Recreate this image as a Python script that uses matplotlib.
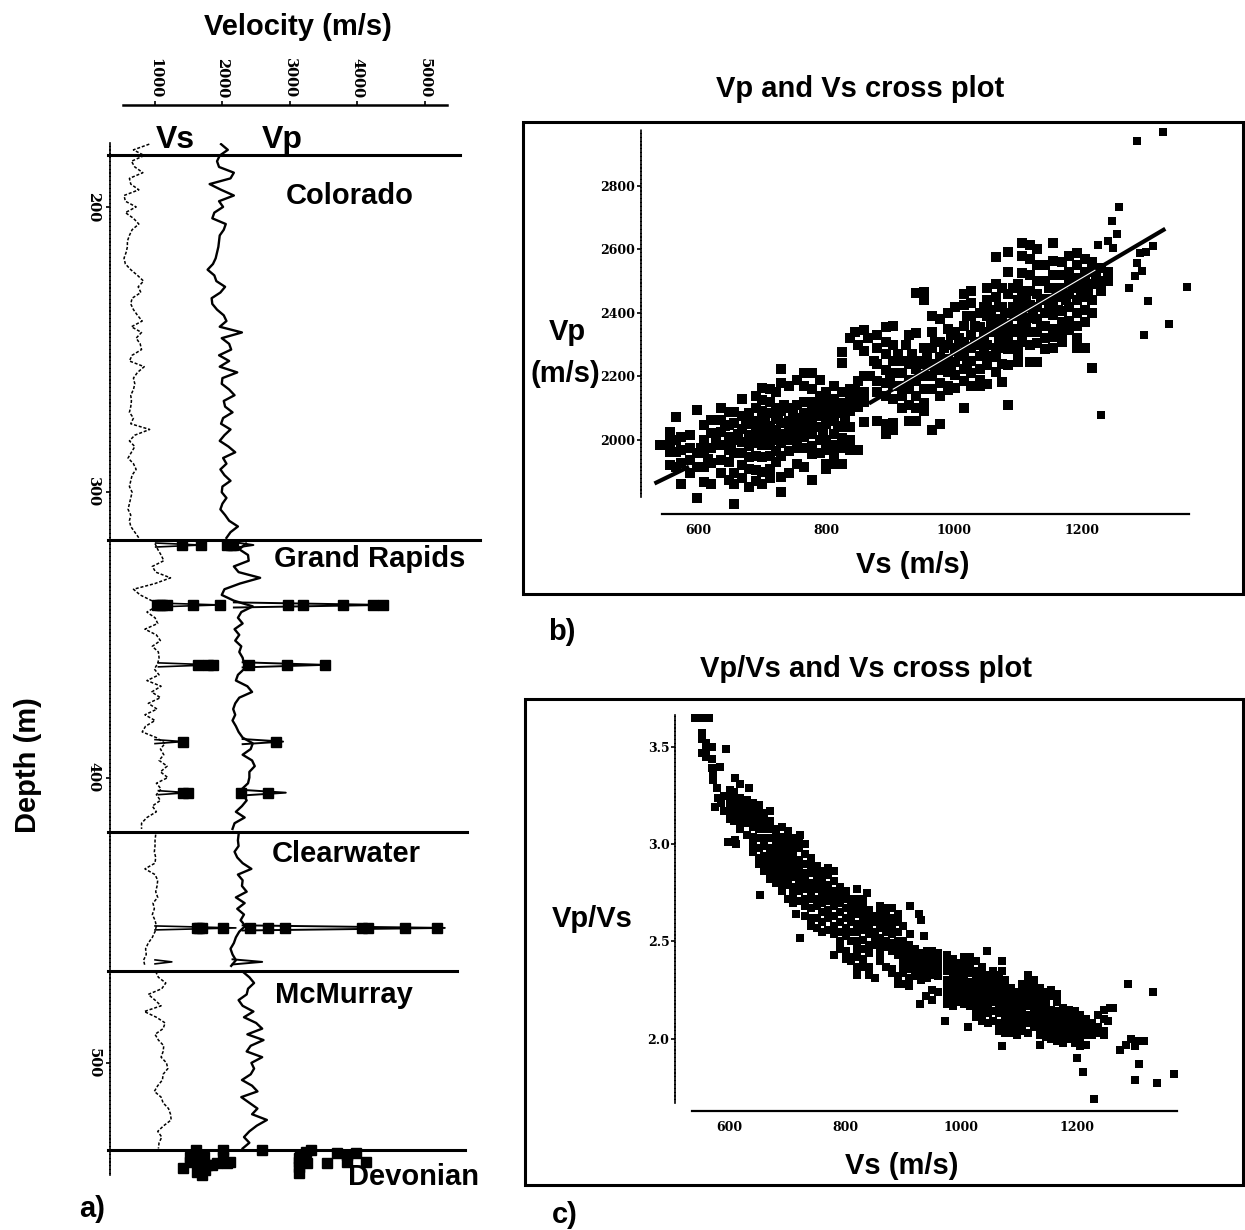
import numpy as np
import matplotlib
matplotlib.use("Agg")
import matplotlib.pyplot as plt
from matplotlib.patches import Rectangle

W, H = 1245, 1230
NARROW = ['Liberation Sans', 'DejaVu Sans']
TICKFONT = 'DejaVu Serif'

# log panel, velocities in m/s sampled down each formation
colorado_depth = (178, 316)
colorado_vp = [1980, 2080, 1960, 1920, 1950, 2170, 2120, 1810, 1980, 2170, 1950, 2010, 1880, 1850, 2050, 2020,
               1960, 1950, 1940, 1920, 1900, 1860, 1780, 1880, 1910, 2040, 1970, 1840, 1850, 1920, 2020, 2060,
               1960, 2290, 1990, 2100, 2130, 1950, 2100, 1960, 2220, 2000, 1990, 2100, 2180, 2020,
               2040, 2150, 2010, 1980, 2120, 2030, 1960, 2090, 2190, 2010, 2060, 1970, 2030, 2120, 2000, 1990,
               2060, 2000, 1970, 2040, 2100, 2230, 2120, 2060]
colorado_vs = [915, 680, 840, 650, 700, 820, 620, 640, 760, 540, 560, 720, 560, 680, 760, 660,
               620, 590, 590, 570, 540, 560, 640, 740, 830, 750, 790, 660, 640, 680, 740, 810,
               650, 800, 720, 780, 800, 660, 620, 840, 740, 680, 700, 680, 640, 650,
               640, 620, 680, 640, 920, 700, 620, 700, 650, 600, 680, 720, 660, 640, 620, 660,
               640, 620, 600, 640, 620, 640, 700, 760]

rapids_depth = (318, 418)
rapids_vp = [2350, 2250, 2380, 2390, 2170, 2240, 2560, 2260, 2030, 1990, 2170, 2450, 2280, 2230, 2300, 2180,
             2250, 2190, 2280, 2250, 2300, 2320, 2320, 2230, 2200, 2370, 2440, 2250, 2190, 2160, 2190, 2150,
             2200, 2240, 2300, 2450, 2420, 2300, 2440, 2480, 2400, 2400, 2380, 2290, 2310, 2360, 2290, 2200,
             2330, 2180, 2150]
rapids_vs = [1000, 1040, 1090, 1130, 960, 1010, 1230, 1000, 680, 780, 950, 1020, 880, 1000, 1040, 850,
             1020, 1080, 960, 1050, 1060, 1040, 990, 1060, 880, 1090, 950, 1080, 900, 1030, 850, 1000,
             860, 810, 1020, 1150, 1080, 1130, 1060, 1180, 1080, 1190, 1020, 1090, 1020, 1080, 960, 1020,
             880, 800, 800]

clearwater_depth = (420, 466)
clearwater_vp = [2240, 2230, 2240, 2180, 2220, 2300, 2430, 2230, 2300, 2290, 2360, 2200, 2330, 2220, 2320, 2270,
                 2340, 2250, 2200, 2170, 2120, 2150, 2200, 2130]
clearwater_vs = [1010, 1000, 1000, 990, 1010, 1000, 850, 1000, 1040, 1030, 1010, 1040, 970, 990, 960, 1000,
                 1020, 1000, 960, 900, 860, 870, 830, 850]

mcmurray_depth = (468, 530)
mcmurray_vp = [2300, 2400, 2470, 2380, 2360, 2240, 2300, 2460, 2320, 2500, 2590, 2370, 2610, 2420, 2360, 2590,
               2430, 2470, 2420, 2290, 2440, 2520, 2280, 2400, 2520, 2440, 2660, 2510, 2400, 2320, 2400, 2300]
mcmurray_vs = [1010, 1050, 1160, 1100, 900, 1000, 1090, 840, 1020, 1150, 1120, 1000, 1050, 1130, 1120, 1090,
               1170, 1190, 1120, 1110, 1040, 990, 1090, 1120, 1200, 1230, 1240, 1130, 1040, 1100, 1060, 1050]

log_sections = [(colorado_depth, colorado_vp, colorado_vs), (rapids_depth, rapids_vp, rapids_vs),
                (clearwater_depth, clearwater_vp, clearwater_vs), (mcmurray_depth, mcmurray_vp, mcmurray_vs)]

# spikes: depth, base and tip of each log, flagged samples
spike_depth = [318.5, 339.5, 360.5, 387.4, 405.3, 452.7, 464.6]
spike_vs_base = [1010, 1000, 1050, 1000, 1050, 1000, 1000]
spike_vs_tip = [1682, 1964, 1860, 1420, 1490, 2200, 1250]
spike_vs_flags = [[1396, 1682], [1025, 1070, 1100, 1173, 1567, 1964], [1640, 1790, 1860], [1420],
                  [1420, 1490], [1620, 1650, 1700, 2010], []]
spike_vp_base = [2200, 2170, 2300, 2300, 2350, 2300, 2150]
spike_vp_tip = [2460, 4400, 3520, 2900, 2940, 5300, 2590]
spike_vp_flags = [[2070, 2120, 2163], [2980, 3200, 3795, 4240, 4390], [2400, 2960, 3520], [2790],
                  [2270, 2680], [2410, 2670, 2930, 4070, 4160, 4710, 5180], []]

devonian_vs = [1610, 2015, 1520, 1620, 1720, 2015, 2110, 1520, 1670, 1770, 1915, 2065, 1420, 1670, 1690, 1740, 1620, 1840, 2590]
devonian_vs_d = [530.5, 530.5, 532.9, 532.9, 532.9, 532.9, 534.6, 534.6, 534.6, 535.8, 535.2, 535.2, 536.9, 536.4, 539.3, 537.5, 538.1, 535.8, 530.5]
devonian_vp = [3307, 3158, 3134, 3208, 3134, 3134, 3257, 3554, 3851, 4124, 3703, 3851, 3975, 3134, 3233]
devonian_vp_d = [530.5, 532.2, 534.6, 532.9, 538.7, 536.4, 535.2, 535.2, 534.6, 534.6, 531.5, 532.2, 531.5, 533.4, 531.1]

tops = ['Colorado', 'Grand Rapids', 'Clearwater', 'McMurray', 'Devonian']
top_depth = [181.8, 316.7, 419, 467.8, 530.5]
top_end = [5525, 5822, 5630, 5480, 5600]

# Vp against Vs
b_vs = [541, 556, 566, 574, 587, 598, 610, 620, 636, 648, 657, 669, 680, 690, 700, 712, 722, 730, 742, 754,
        765, 778, 790, 800, 812, 825, 838, 850, 860, 880, 893, 905, 918, 930, 940, 953, 965, 978, 990, 1002,
        1015, 1027, 1040, 1052, 1065, 1075, 1085, 1100, 1106, 1118, 1130, 1142, 1155, 1168, 1180, 1192, 1204, 1216, 1230, 1240]
b_vp = [[1985], [2026, 1995, 1963, 1921], [2073, 2000, 1963, 1916], [2010, 1968, 1926, 1860], [2016, 1974, 1937, 1895],
        [2094, 1958, 1916, 1816], [2047, 2000, 1958, 1916, 1869], [2063, 2021, 1974, 1926, 1863],
        [2100, 2063, 2026, 1984, 1937, 1895], [2089, 2047, 2010, 1968, 1932, 1874],
        [2089, 2052, 2000, 1958, 1895, 1863, 1800], [2130, 2075, 2035, 1995, 1960, 1920, 1880],
        [2085, 2050, 2015, 1980, 1945, 1910, 1853], [2140, 2100, 2060, 2025, 1990, 1950, 1905, 1870],
        [2165, 2125, 2090, 2050, 2020, 1985, 1945, 1900, 1860], [2160, 2120, 2085, 2045, 2015, 1985, 1950, 1910, 1880],
        [2152, 2100, 2065, 2030, 2000, 1965, 1930], [2225, 2180, 2090, 2055, 2020, 1990, 1950, 1885, 1835],
        [2170, 2100, 2060, 2030, 2000, 1965, 1895], [2190, 2110, 2070, 2040, 2005, 1975, 1925],
        [2210, 2170, 2120, 2085, 2050, 2010, 1975, 1915], [2210, 2160, 2120, 2090, 2060, 2020, 1980, 1955, 1874],
        [2190, 2140, 2100, 2075, 2040, 2000, 1960], [2150, 2120, 2085, 2050, 2000, 1970, 1925, 1910],
        [2170, 2130, 2095, 2065, 2020, 1985, 1955, 1925], [2278, 2241, 2150, 2115, 2085, 2040, 2005, 1975, 1925],
        [2320, 2160, 2130, 2090, 2040, 2000, 1970], [2185, 2140, 2105, 1970], [2345, 2200, 2150, 2120, 2058],
        [2330, 2290, 2240, 2185, 2150, 2060], [2357, 2310, 2270, 2220, 2180, 2140, 2050, 2020],
        [2360, 2300, 2250, 2210, 2170, 2130, 2055, 2030], [2250, 2210, 2170, 2140, 2100],
        [2330, 2240, 2190, 2160, 2110, 2060], [2462, 2336, 2225, 2185, 2140, 2100, 2060],
        [2465, 2440, 2290, 2240, 2200, 2160, 2115, 2090], [2390, 2340, 2290, 2240, 2200, 2160, 2033],
        [2380, 2310, 2260, 2220, 2180, 2140, 2050], [2400, 2350, 2300, 2255, 2215, 2170, 2157],
        [2420, 2340, 2290, 2245, 2205, 2165], [2460, 2425, 2360, 2310, 2265, 2225, 2185, 2100],
        [2470, 2430, 2390, 2330, 2290, 2250, 2210, 2170], [2400, 2355, 2300, 2265, 2225, 2190, 2170],
        [2480, 2440, 2390, 2340, 2300, 2265, 2235, 2175], [2577, 2490, 2450, 2380, 2340, 2290, 2260, 2215],
        [2480, 2420, 2370, 2320, 2290, 2240, 2184], [2593, 2528, 2460, 2400, 2360, 2310, 2285, 2235, 2110],
        [2490, 2440, 2390, 2350, 2300, 2275, 2245], [2620, 2580, 2525, 2470, 2420, 2380, 2340, 2310],
        [2615, 2570, 2520, 2470, 2425, 2385, 2340, 2300, 2247], [2600, 2550, 2500, 2460, 2420, 2380, 2340, 2305, 2245],
        [2550, 2500, 2445, 2400, 2360, 2320, 2285], [2620, 2565, 2520, 2480, 2440, 2395, 2350, 2325, 2290],
        [2560, 2520, 2480, 2450, 2405, 2370, 2340, 2310], [2580, 2530, 2500, 2460, 2420, 2375, 2345],
        [2590, 2550, 2510, 2480, 2440, 2400, 2360, 2320, 2290], [2570, 2530, 2500, 2450, 2410, 2370, 2289],
        [2560, 2530, 2490, 2440, 2400, 2228], [2540, 2500, 2470], [2530, 2500]]
b_out_vs = [1225, 1240, 1249, 1246, 1257, 1255, 1230, 1286, 1327, 1273, 1282, 1294, 1286, 1291, 1300, 1310, 1303, 1364, 1336, 1297]
b_out_vp = [2614, 2625, 2604, 2691, 2732, 2648, 2079, 2940, 2971, 2478, 2517, 2533, 2556, 2588, 2593, 2611, 2438, 2481, 2364, 2331]
b_fill_vs = [605, 615, 628, 642, 652, 663, 675, 685, 695, 705, 705, 716, 725, 735, 735, 748, 748, 758, 770, 770, 784, 784, 795, 795,
             806, 806, 818, 818, 830, 830, 845, 845, 868, 875, 860, 850, 865, 845,
             900, 912, 925, 935, 945, 958, 970, 970, 984, 984, 996, 996, 1008, 1008, 1020, 1020, 1020, 1033, 1033, 1046, 1046, 1046,
             1058, 1058, 1070, 1070, 1070, 1080, 1080, 1092, 1092, 1092, 1112, 1112, 1124, 1136, 1136, 1148, 1148, 1162, 1162, 1175, 1186, 1198, 1210, 1222]
b_fill_vp = [1975, 1940, 2000, 2045, 1990, 2020, 2060, 2000, 2040, 2070, 2000, 2030, 2080, 2010, 2110, 2045, 2085, 2020, 2030, 2070, 2040, 2110, 2020, 2120,
             2060, 2110, 2045, 2110, 2060, 2110, 2120, 2160, 2200, 2250, 2280, 2300, 2320, 2340,
             2190, 2270, 2300, 2270, 2250, 2260, 2225, 2310, 2240, 2290, 2230, 2330, 2270, 2320, 2240, 2290, 2390, 2310, 2360, 2280, 2330, 2420,
             2360, 2410, 2310, 2360, 2420, 2340, 2400, 2340, 2420, 2480, 2360, 2440, 2400, 2440, 2360, 2420, 2480, 2410, 2470, 2440, 2490, 2470, 2470, 2510]
fit_low_vs, fit_low_vp = [532, 586], [1863, 1916]
fit_mid_vs, fit_mid_vp = [867, 1330], [2115, 2665]
b_xticks = [600, 800, 1000, 1200]
b_yticks = [2000, 2200, 2400, 2600, 2800]

# Vp/Vs against Vs
c_vs = [552, 560, 570, 600, 608, 618, 630, 640, 650, 660, 670, 680, 690, 700, 710, 720, 730, 740, 750, 760,
        770, 780, 790, 800, 810, 820, 830, 840, 850, 860, 870, 880, 890, 900, 910, 920, 930, 940, 950, 960,
        975, 985, 995, 1005, 1015, 1025, 1035, 1045, 1055, 1065, 1075, 1085, 1095, 1105, 1115, 1125, 1135, 1145,
        1155, 1165, 1175, 1185, 1195, 1205, 1215, 1225, 1235, 1245]
c_ratio = [[3.57, 3.54, 3.47], [3.52, 3.48, 3.45], [3.50, 3.44, 3.39], [3.28, 3.24, 3.20, 3.17, 3.13],
           [3.27, 3.23, 3.19, 3.15, 3.12], [3.24, 3.20, 3.16, 3.12, 3.08], [3.23, 3.19, 3.15, 3.11, 3.05],
           [3.21, 3.17, 3.13, 3.09, 3.04, 3.00, 2.96], [3.20, 3.16, 3.12, 3.08, 3.03, 2.98, 2.93, 2.90],
           [3.16, 3.12, 3.08, 3.03, 2.99, 2.94, 2.90, 2.86], [3.17, 3.12, 3.08, 3.03, 2.98, 2.94, 2.90, 2.86, 2.82],
           [3.08, 3.04, 3.00, 2.96, 2.92, 2.88, 2.84, 2.80], [3.09, 3.04, 3.00, 2.96, 2.92, 2.88, 2.84, 2.80, 2.76],
           [3.07, 3.03, 2.99, 2.95, 2.91, 2.87, 2.83, 2.79, 2.72], [3.03, 2.99, 2.95, 2.91, 2.87, 2.83, 2.78, 2.74, 2.70],
           [3.02, 2.98, 2.92, 2.88, 2.84, 2.80, 2.76, 2.71], [3.00, 2.95, 2.90, 2.85, 2.81, 2.77, 2.72, 2.68, 2.63],
           [2.93, 2.89, 2.85, 2.80, 2.76, 2.72, 2.67, 2.62, 2.58], [2.89, 2.85, 2.81, 2.77, 2.72, 2.68, 2.62, 2.57],
           [2.86, 2.82, 2.78, 2.74, 2.70, 2.65, 2.60, 2.55], [2.88, 2.84, 2.79, 2.75, 2.71, 2.66, 2.62, 2.56],
           [2.86, 2.81, 2.76, 2.72, 2.68, 2.63, 2.58, 2.54, 2.43], [2.78, 2.74, 2.70, 2.65, 2.60, 2.55, 2.50, 2.46],
           [2.76, 2.72, 2.67, 2.62, 2.57, 2.53, 2.45, 2.41], [2.72, 2.68, 2.64, 2.60, 2.55, 2.50, 2.42, 2.40],
           [2.77, 2.72, 2.68, 2.64, 2.59, 2.55, 2.50, 2.46, 2.42, 2.37, 2.33], [2.72, 2.68, 2.64, 2.60, 2.56, 2.51, 2.46, 2.41, 2.37],
           [2.66, 2.62, 2.58, 2.54, 2.48, 2.44, 2.37, 2.33], [2.63, 2.60, 2.55, 2.51, 2.48, 2.31],
           [2.68, 2.65, 2.61, 2.57, 2.52, 2.48, 2.44, 2.40], [2.67, 2.63, 2.59, 2.55, 2.50, 2.47, 2.37],
           [2.67, 2.62, 2.58, 2.54, 2.49, 2.45, 2.36, 2.34], [2.64, 2.60, 2.55, 2.50, 2.47, 2.43, 2.32, 2.28],
           [2.58, 2.50, 2.46, 2.42, 2.38, 2.34, 2.28], [2.48, 2.44, 2.40, 2.36, 2.31, 2.27], [2.46, 2.43, 2.39, 2.35, 2.32],
           [2.44, 2.40, 2.36, 2.33, 2.30], [2.45, 2.42, 2.38, 2.34, 2.31], [2.45, 2.41, 2.37, 2.33, 2.20], [2.44, 2.40, 2.36, 2.32, 2.24],
           [2.43, 2.39, 2.35, 2.30, 2.26, 2.22, 2.18], [2.41, 2.37, 2.33, 2.29, 2.25, 2.21, 2.17], [2.39, 2.35, 2.31, 2.27, 2.23, 2.19],
           [2.42, 2.38, 2.34, 2.30, 2.26, 2.22, 2.18], [2.42, 2.38, 2.34, 2.29, 2.25, 2.21, 2.17], [2.40, 2.35, 2.31, 2.27, 2.23, 2.19, 2.15, 2.11],
           [2.37, 2.33, 2.29, 2.25, 2.21, 2.17, 2.13, 2.09], [2.33, 2.29, 2.25, 2.21, 2.17, 2.13, 2.08], [2.35, 2.31, 2.27, 2.23, 2.19, 2.14, 2.09],
           [2.33, 2.29, 2.25, 2.21, 2.17, 2.13, 2.08, 2.04], [2.30, 2.26, 2.22, 2.18, 2.14, 2.10, 2.06, 2.03], [2.26, 2.22, 2.18, 2.14, 2.10, 2.06, 2.03],
           [2.24, 2.20, 2.16, 2.12, 2.08, 2.05, 2.02], [2.28, 2.24, 2.20, 2.16, 2.12, 2.08, 2.04], [2.33, 2.29, 2.25, 2.21, 2.17, 2.12, 2.08, 2.03],
           [2.30, 2.26, 2.22, 2.18, 2.14, 2.10, 2.06], [2.26, 2.22, 2.18, 2.14, 2.10, 2.06, 2.02, 1.97], [2.24, 2.20, 2.16, 2.12, 2.08, 2.04, 2.01],
           [2.25, 2.22, 2.15, 2.11, 2.07, 2.03, 2.00], [2.23, 2.19, 2.14, 2.10, 2.06, 2.02, 1.99], [2.16, 2.12, 2.08, 2.04, 2.01, 1.98],
           [2.15, 2.11, 2.07, 2.03, 2.00], [2.14, 2.10, 2.06, 2.02, 1.98], [2.12, 2.08, 2.04, 2.00, 1.96], [2.10, 2.06, 2.02, 1.97],
           [2.08, 2.05, 2.02], [2.12, 2.06, 2.03], [2.10, 2.04, 2.02]]
c_out_vs = [540, 552, 564, 572, 578, 584, 594, 609, 618, 633, 575, 597, 609, 612, 652, 722, 722, 714, 837, 911, 926, 930, 911, 936, 904, 929, 938, 950,
            972, 1011, 1044, 1069, 1069, 1069, 1252, 1256, 1246, 1262, 1200, 1209, 1228, 1287, 1331, 1274, 1283, 1292, 1299, 1305, 1314, 1306, 1299, 1337, 1366,
            580, 585, 590, 590, 572]
c_out_ratio = [3.65, 3.65, 3.65, 3.36, 3.29, 3.40, 3.49, 3.34, 3.31, 3.29, 3.19, 3.01, 3.02, 3.00, 2.74, 3.05, 2.52, 2.64, 2.75, 2.68, 2.64, 2.61, 2.54, 2.53, 2.28, 2.18, 2.22, 2.25,
               2.09, 2.06, 2.45, 2.40, 2.35, 1.96, 2.09, 2.16, 2.15, 2.16, 1.90, 1.83, 1.69, 2.28, 2.24, 1.94, 1.97, 2.00, 1.96, 1.99, 1.99, 1.87, 1.79, 1.77, 1.82,
               3.24, 3.21, 3.25, 3.17, 3.33]
c_xticks = [600, 800, 1000, 1200]
c_yticks = [2.0, 2.5, 3.0, 3.5]


def px_axes(left, top, right, bottom):
    return fig.add_axes([left / W, 1 - bottom / H, (right - left) / W, (bottom - top) / H])


def label(x, y, s, size=21, **kw):
    # the +3 brings the cap height centre onto the requested pixel row
    fig.text(x / W, 1 - (y + 3) / H, s, family=NARROW, weight='bold', fontsize=size, ha='center', va='center', **kw)


def style_ticks(ax, size):
    for t in ax.get_xticklabels() + ax.get_yticklabels():
        t.set_family(TICKFONT)
        t.set_weight('bold')
        t.set_fontsize(size)


def scatter_panel(ax):
    for s in ['top', 'right']:
        ax.spines[s].set_visible(False)
    ax.spines['left'].set_linestyle((0, (1.5, 0.8)))
    ax.spines['left'].set_linewidth(1.2)
    ax.spines['bottom'].set_linewidth(1.6)
    ax.tick_params(axis='x', length=0, pad=7)
    ax.tick_params(axis='y', length=3, width=1.2, pad=1)
    ax.patch.set_alpha(0)


fig = plt.figure(figsize=(W / 100, H / 100), dpi=100)

# a) the logs
ax = px_axes(110, 143, 480, 1185)
ax.set_xlim(332, 5822)
ax.set_ylim(542.8, 177.6)
for (d_range, vp, vs) in log_sections:
    ax.plot(vp, np.linspace(d_range[0], d_range[1], len(vp)), color='k', lw=1.7)
    ax.plot(vs, np.linspace(d_range[0], d_range[1], len(vs)), color='k', lw=1.1, ls=(0, (2, 1.2)))
for i, d in enumerate(spike_depth):
    ax.plot([spike_vs_base[i], spike_vs_tip[i], spike_vs_base[i]], [d - 0.7, d, d + 0.7], color='k', lw=1.2)
    ax.plot([spike_vp_base[i], spike_vp_tip[i], spike_vp_base[i]], [d - 0.9, d, d + 0.9], color='k', lw=1.4)
    flags = spike_vs_flags[i] + spike_vp_flags[i]
    ax.plot(flags, [d] * len(flags), ls='none', marker='s', ms=7.5, color='k')
ax.plot(devonian_vs, devonian_vs_d, ls='none', marker='s', ms=7.5, color='k', clip_on=False)
ax.plot(devonian_vp, devonian_vp_d, ls='none', marker='s', ms=7.5, color='k', clip_on=False)
for d, end in zip(top_depth, top_end):
    ax.plot([303, end], [d, d], color='k', lw=2.2, clip_on=False)
ax.patch.set_alpha(0)
ax.spines['right'].set_visible(False)
ax.spines['bottom'].set_visible(False)
ax.spines['top'].set_position(('outward', 27.4))
ax.spines['top'].set_bounds(525, 5332)
ax.spines['top'].set_linewidth(1.8)
ax.spines['left'].set_bounds(177.6, 539.3)
ax.spines['left'].set_linestyle((0, (1.5, 0.8)))
ax.spines['left'].set_linewidth(1.2)
ax.xaxis.tick_top()
ax.set_xticks([1000, 2000, 3000, 4000, 5000])
ax.set_yticks([200, 300, 400, 500])
ax.tick_params(axis='x', length=3, width=1.2, pad=2)
ax.tick_params(axis='y', length=3, width=1.2, pad=4)
style_ticks(ax, 10.5)
plt.setp(ax.get_xticklabels(), rotation=270, ha='center', va='bottom')
plt.setp(ax.get_yticklabels(), rotation=270, ha='right', va='center')

# b) Vp against Vs
axb = px_axes(641, 130, 1189, 514)
axb.set_xlim(511, 1367)
axb.set_ylim(1767, 2976)
for vs, vps in zip(b_vs, b_vp):
    axb.plot([vs] * len(vps), vps, ls='none', marker='s', ms=6.5, color='k', mew=0)
axb.plot(b_fill_vs, b_fill_vp, ls='none', marker='s', ms=6.5, color='k', mew=0)
axb.plot(b_out_vs, b_out_vp, ls='none', marker='s', ms=5.8, color='k', mew=0, clip_on=False)
axb.plot(fit_low_vs, fit_low_vp, color='k', lw=3, solid_capstyle='butt')
axb.plot(fit_mid_vs, fit_mid_vp, color='k', lw=3, solid_capstyle='butt')
axb.plot([905, 1220], np.interp([905, 1220], fit_mid_vs, fit_mid_vp), color='w', lw=0.8)
scatter_panel(axb)
axb.spines['left'].set_bounds(1820, 2976)
axb.spines['bottom'].set_bounds(544, 1367)
axb.set_xticks(b_xticks)
axb.set_yticks(b_yticks)
style_ticks(axb, 9)

# c) Vp/Vs against Vs
axc = px_axes(675, 715, 1177, 1111)
axc.set_xlim(506, 1371.6)
axc.set_ylim(1.628, 3.665)
for vs, ratios in zip(c_vs, c_ratio):
    axc.plot([vs] * len(ratios), ratios, ls='none', marker='s', ms=5.2, color='k', mew=0)
axc.plot(c_out_vs, c_out_ratio, ls='none', marker='s', ms=5.2, color='k', mew=0, clip_on=False)
scatter_panel(axc)
axc.spines['left'].set_bounds(1.67, 3.665)
axc.spines['bottom'].set_bounds(536, 1371.6)
axc.set_xticks(c_xticks)
axc.set_yticks(c_yticks)
axc.set_yticklabels(['2.0', '2.5', '3.0', '3.5'])
style_ticks(axc, 9)

# frames round b and c
for (l, t, r, b) in [(523, 122, 1243, 594), (525, 699, 1243, 1185)]:
    fig.add_artist(Rectangle((l / W, 1 - b / H), (r - l) / W, (b - t) / H, transform=fig.transFigure,
                             fill=False, ec='k', lw=2.2))

label(298, 24, 'Velocity (m/s)')
label(175, 137, 'Vs', size=23)
label(282, 137, 'Vp', size=23)
label(350, 193, tops[0])
label(370, 556, tops[1])
label(346, 851, tops[2])
label(344, 992, tops[3])
label(414, 1174, tops[4])
label(28, 762, 'Depth (m)', rotation=90)
label(92, 1206, 'a)')
label(562, 629, 'b)')
label(565, 1212, 'c)')
label(860, 86, 'Vp and Vs cross plot')
label(866, 666, 'Vp/Vs and Vs cross plot')
label(567, 329, 'Vp')
label(565, 371, '(m/s)')
label(913, 562, 'Vs (m/s)')
label(592, 916, 'Vp/Vs')
label(902, 1163, 'Vs (m/s)')

fig.savefig('out.png', dpi=100)
